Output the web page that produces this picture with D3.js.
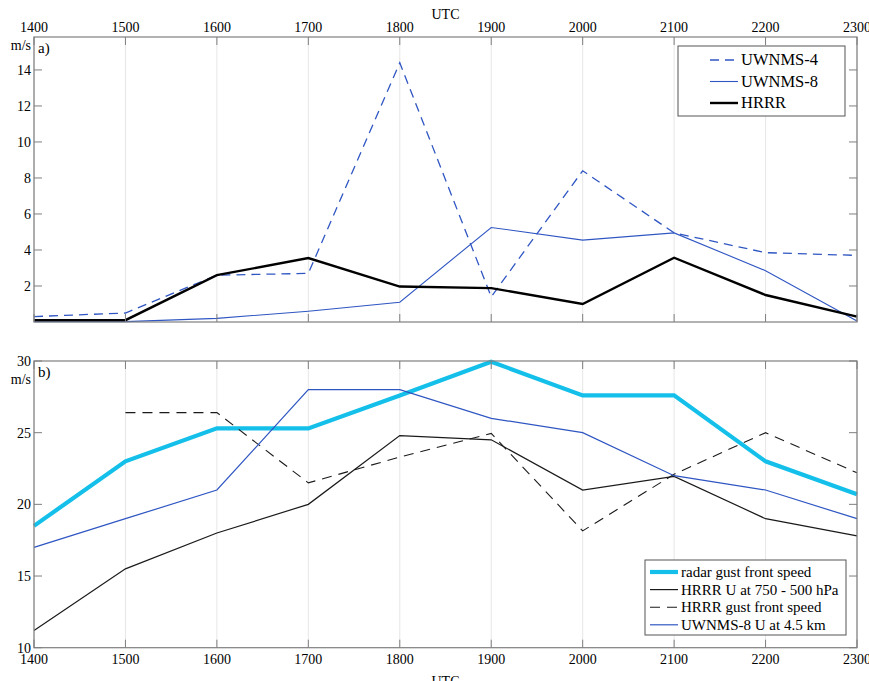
<!DOCTYPE html>
<html>
<head>
<meta charset="utf-8">
<script src="https://cdn.jsdelivr.net/npm/d3@7"></script>
<style>
body { margin: 0; background: #fff; }
text { font-family: "Liberation Serif", "Times New Roman", serif; }
</style>
</head>
<body>
<script>
// hours (UTC)
var hours = [1400, 1500, 1600, 1700, 1800, 1900, 2000, 2100, 2200, 2300];

// panel a) values, m/s
var uwnms4 = [0.3, 0.5, 2.6, 2.7, 14.4, 1.4, 8.4, 4.95, 3.85, 3.7];
var uwnms8 = [0.02, 0.02, 0.2, 0.6, 1.1, 5.25, 4.55, 4.95, 2.85, 0.05];
var hrrr = [0.1, 0.1, 2.6, 3.55, 1.97, 1.88, 1.0, 3.57, 1.5, 0.3];

// panel b) values, m/s
var radarGust = [18.5, 23, 25.3, 25.3, 27.6, 29.95, 27.6, 27.6, 23, 20.7];
var hrrrU = [11.2, 15.5, 18, 20, 24.8, 24.5, 21, 21.95, 19, 17.8];
var hrrrGust = [null, 26.4, 26.4, 21.5, 23.3, 24.95, 18.15, 22.1, 25, 22.2];
var uwnms8U = [17, 19, 21, 28, 28, 26, 25, 22, 21, 19];

var yTicksA = [2, 4, 6, 8, 10, 12, 14];
var yTicksB = [10, 15, 20, 25, 30];

var W = 869, H = 681;
var left = 34, right = 857;
var blue = "#2f56c2", cyan = "#14c0ea";

var svg = d3.select("body").append("svg")
    .attr("width", W)
    .attr("height", H);

var x = d3.scaleLinear()
    .domain([1400, 2300])
    .range([left, right]);

function panel(top, bottom, domain, yTicks, series, legend, opts) {
  var y = d3.scaleLinear().domain(domain).range([bottom, top]);
  var g = svg.append("g");

  // vertical grid
  g.selectAll(".grid").data(hours).enter().append("line")
      .attr("x1", d => x(d)).attr("x2", d => x(d))
      .attr("y1", top).attr("y2", bottom)
      .attr("stroke", "#e6e6e6").attr("stroke-width", 1);

  // lines
  series.forEach(function(s) {
    var line = d3.line()
        .defined(d => d != null)
        .x((d, i) => x(hours[i]))
        .y(d => y(d));
    g.append("path")
        .datum(s.values)
        .attr("fill", "none")
        .attr("stroke", s.color)
        .attr("stroke-width", s.width)
        .attr("stroke-dasharray", s.dash || null)
        .attr("stroke-linejoin", "miter")
        .attr("d", line);
  });

  // box
  g.append("rect")
      .attr("x", left).attr("y", top)
      .attr("width", right - left).attr("height", bottom - top)
      .attr("fill", "none").attr("stroke", "#7f7f7f").attr("stroke-width", 1.2);

  // x ticks (inward, top and bottom)
  g.selectAll(".xt").data(hours).enter().append("path")
      .attr("d", d => "M" + x(d) + "," + top + "v8M" + x(d) + "," + bottom + "v-8")
      .attr("stroke", "#7f7f7f");

  // y ticks (inward, left and right)
  g.selectAll(".yt").data(yTicks).enter().append("path")
      .attr("d", d => "M" + left + "," + y(d) + "h8M" + right + "," + y(d) + "h-8")
      .attr("stroke", "#7f7f7f");

  g.selectAll(".yl").data(yTicks).enter().append("text")
      .attr("x", left - 3).attr("y", d => y(d) + 5)
      .attr("text-anchor", "end")
      .attr("font-size", 14)
      .text(d => d);

  // x labels
  g.selectAll(".xl").data(hours).enter().append("text")
      .attr("x", d => x(d))
      .attr("y", opts.xLabelY)
      .attr("text-anchor", "middle")
      .attr("font-size", 14)
      .text(d => d);

  g.append("text")
      .attr("x", (left + right) / 2).attr("y", opts.utcY)
      .attr("text-anchor", "middle").attr("font-size", 14)
      .text("UTC");

  g.append("text")
      .attr("x", left - 3).attr("y", opts.unitY)
      .attr("text-anchor", "end").attr("font-size", 14)
      .text("m/s");

  g.append("text")
      .attr("x", left + 4).attr("y", top + 16)
      .attr("font-size", 15)
      .text(opts.tag);

  // legend
  var lg = g.append("g");
  lg.append("rect")
      .attr("x", legend.x).attr("y", legend.y)
      .attr("width", legend.w).attr("height", legend.h)
      .attr("fill", "#fff").attr("stroke", "#555").attr("stroke-width", 1);
  series.forEach(function(s, i) {
    var yy = legend.y + legend.first + i * legend.step;
    lg.append("line")
        .attr("x1", legend.x + legend.lx1).attr("x2", legend.x + legend.lx2)
        .attr("y1", yy).attr("y2", yy)
        .attr("stroke", s.color).attr("stroke-width", s.width)
        .attr("stroke-dasharray", s.dash || null);
    lg.append("text")
        .attr("x", legend.x + legend.lx2 + 3).attr("y", yy + 5)
        .attr("font-size", legend.fs)
        .text(s.name);
  });
}

panel(37, 322, [0, 15.83], yTicksA, [
  {name: "UWNMS-4", values: uwnms4, color: blue, width: 1.3, dash: "9,6"},
  {name: "UWNMS-8", values: uwnms8, color: blue, width: 1.1},
  {name: "HRRR", values: hrrr, color: "#000", width: 2.4}
], {x: 678, y: 46, w: 167, h: 70, first: 14, step: 21.5, lx1: 32, lx2: 60, fs: 16.5},
   {xLabelY: 32, utcY: 19, unitY: 50, tag: "a)"});

panel(361, 647.7, [10, 30], yTicksB, [
  {name: "radar gust front speed", values: radarGust, color: cyan, width: 4.2},
  {name: "HRRR U at 750 - 500 hPa", values: hrrrU, color: "#1a1a1a", width: 1.2},
  {name: "HRRR gust front speed", values: hrrrGust, color: "#1a1a1a", width: 1.1, dash: "10,7"},
  {name: "UWNMS-8 U at 4.5 km", values: uwnms8U, color: blue, width: 1.2}
], {x: 645, y: 560, w: 201, h: 75, first: 12, step: 17.6, lx1: 5, lx2: 33, fs: 15},
   {xLabelY: 664, utcY: 686, unitY: 384, tag: "b)"});
</script>
</body>
</html>
